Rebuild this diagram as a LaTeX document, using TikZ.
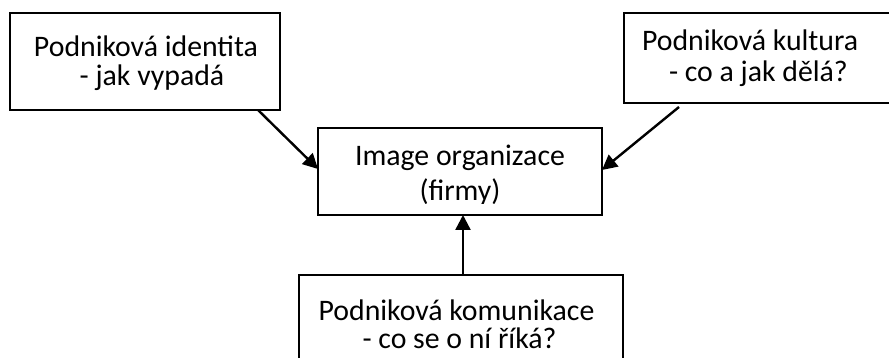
\documentclass[tikz,border=0pt]{standalone}
\usepackage{fontspec}
\setmainfont{Carlito}
\usetikzlibrary{arrows.meta,calc}
\tikzset{
  box/.style={draw=black, line width=1.6pt, fill=white, inner sep=0pt, outer sep=0pt},
  txt/.style={inner sep=0pt, outer sep=0pt, font=\fontsize{29.8}{30}\selectfont},
  conn/.style={draw=black, line width=2.4pt, -{Triangle[length=15pt,width=15pt]}}
}
\begin{document}
\begin{tikzpicture}[x=1pt,y=-1pt]
\clip (0,0) rectangle (889,358);
\fill[white] (0,0) rectangle (889,358);
% boxes
\node[box, minimum width=270, minimum height=97] (A) at (145,61.5) {};
\node[box, minimum width=276, minimum height=90] (B) at (762,58) {};
\node[box, minimum width=284, minimum height=87] (C) at (460,171.5) {};
\node[box, minimum width=324, minimum height=100] (D) at (461,325) {};
% texts
\node[txt, anchor=base] (a1) at (146,57) {Podniková identita};
\node[txt, anchor=base] (a2) at (152,86) {- jak vypadá};
\node[txt, anchor=base west] (b1) at (642,51) {Podniková kultura};
\node[txt, anchor=base west] (b2) at (669,82) {- co a jak dělá?};
\node[txt, anchor=base] (c1) at (460,166) {Image organizace};
\begin{scope}
  \clip (318,128) rectangle (602,204);
  \node[txt, anchor=base] (c2) at (460,201) {(firmy)};
\end{scope}
\node[txt, anchor=base] (d1) at (456.5,320) {Podniková komunikace};
\node[txt, anchor=base] (d2) at (459.5,348) {- co se o ní říká?};
% connectors
\draw[conn] ($(A.south east)+(-22,0)$) -- ($(C.west)+(0,-2.5)$);
\draw[conn] ($(B.south west)+(55,4)$) -- ($(C.east)+(0,-1.5)$);
\draw[conn] ($(D.north)+(2,0)$) -- ($(C.south)+(3,0)$);
\end{tikzpicture}
\end{document}
